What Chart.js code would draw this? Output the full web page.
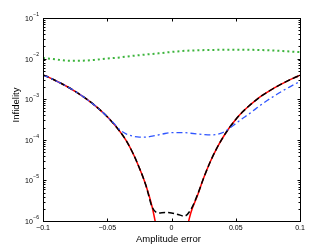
<!DOCTYPE html>
<html>
<head>
<meta charset="utf-8">
<script src="https://cdn.jsdelivr.net/npm/chart.js@4.4.1/dist/chart.umd.min.js"></script>
<style>
    html, body { margin: 0; padding: 0; background: #fff; }
    #wrap { width: 332px; height: 249px; position: relative; }
</style>
</head>
<body>
<div id="wrap"><canvas id="infidelityChart"></canvas></div>
<script>
// Amplitude error grid (fine) used by the solid, dashed and dash-dot curves
const ampError = [-0.1, -0.095, -0.09, -0.085, -0.08, -0.075, -0.07, -0.065, -0.06, -0.055,
    -0.05, -0.045, -0.04, -0.035, -0.03, -0.025, -0.02, -0.015, -0.01, -0.005,
    0, 0.005, 0.01, 0.015, 0.02, 0.025, 0.03, 0.035, 0.04, 0.045,
    0.05, 0.055, 0.06, 0.065, 0.07, 0.075, 0.08, 0.085, 0.09, 0.095, 0.1];

// Coarser grid for the dotted curve
const ampErrorCoarse = [-0.1, -0.09, -0.08, -0.07, -0.06, -0.05, -0.04, -0.03, -0.02, -0.01,
    0, 0.01, 0.02, 0.03, 0.04, 0.05, 0.06, 0.07, 0.08, 0.09, 0.1];

// Series values
const redSolid = [3.98e-3, 3.39e-3, 2.85e-3, 2.37e-3, 1.94e-3, 1.56e-3, 1.23e-3, 9.5e-4, 7.16e-4, 5.24e-4,
    3.69e-4, 2.48e-4, 1.58e-4, 9.3e-5, 4.66e-5, 2.03e-5, 7.7e-6, 2.18e-6, 3.45e-7, 4e-8,
    1e-8, 4e-8, 3.16e-7, 1.58e-6, 4.05e-6, 1.14e-5, 2.8e-5, 5.98e-5, 1.14e-4, 1.98e-4,
    3.18e-4, 4.75e-4, 6.71e-4, 9.12e-4, 1.2e-3, 1.52e-3, 1.9e-3, 2.32e-3, 2.79e-3, 3.31e-3, 3.89e-3];

const blackDashed = [3.98e-3, 3.39e-3, 2.85e-3, 2.37e-3, 1.94e-3, 1.56e-3, 1.23e-3, 9.5e-4, 7.16e-4, 5.24e-4,
    3.69e-4, 2.48e-4, 1.58e-4, 9.3e-5, 4.66e-5, 2.03e-5, 7.7e-6, 2.18e-6, 1.58e-6, 1.62e-6,
    1.58e-6, 1.45e-6, 1.32e-6, 1.9e-6, 4.27e-6, 1.14e-5, 2.8e-5, 5.98e-5, 1.14e-4, 1.98e-4,
    3.18e-4, 4.75e-4, 6.71e-4, 9.12e-4, 1.2e-3, 1.52e-3, 1.9e-3, 2.32e-3, 2.79e-3, 3.31e-3, 3.89e-3];

const blueDashDot = [3.98e-3, 3.39e-3, 2.85e-3, 2.37e-3, 1.94e-3, 1.56e-3, 1.23e-3, 9.5e-4, 7.16e-4, 5.24e-4,
    3.69e-4, 2.57e-4, 1.74e-4, 1.38e-4, 1.23e-4, 1.17e-4, 1.17e-4, 1.23e-4, 1.32e-4, 1.43e-4,
    1.5e-4, 1.51e-4, 1.5e-4, 1.45e-4, 1.4e-4, 1.35e-4, 1.32e-4, 1.35e-4, 1.51e-4, 1.91e-4,
    2.51e-4, 3.31e-4, 4.27e-4, 5.62e-4, 7.41e-4, 9.55e-4, 1.2e-3, 1.51e-3, 1.86e-3, 2.26e-3, 2.75e-3];

const greenDotted = [0.01035, 0.00955, 0.0089, 0.0089, 0.0093, 0.0100, 0.0107, 0.0117, 0.0126, 0.0135,
    0.0146, 0.0155, 0.0160, 0.0163, 0.0165, 0.0166, 0.0165, 0.0162, 0.0158, 0.0151, 0.0145];

// Tick values and labels
const xTicks = [-0.1, -0.05, 0, 0.05, 0.1];
const xTickLabels = ['\u22120.1', '\u22120.05', '0', '0.05', '0.1'];
const yTicks = [1e-1, 1e-2, 1e-3, 1e-4, 1e-5, 1e-6];
const yTickExponents = ['\u22121', '\u22122', '\u22123', '\u22124', '\u22125', '\u22126'];

const FONT = '"Liberation Sans", Arial, Helvetica, sans-serif';

function toPoints(xs, ys) {
    return xs.map((x, i) => ({ x: x, y: ys[i] }));
}

// MATLAB-like axes: box, inside ticks, tick labels with superscripts, axis titles
const matlabAxes = {
    id: 'matlabAxes',
    afterDraw(chart) {
        const ctx = chart.ctx;
        const area = chart.chartArea;
        const xScale = chart.scales.x;
        const yScale = chart.scales.y;
        const left = Math.round(area.left) + 0.5;
        const right = Math.round(area.right) + 0.5;
        const top = Math.round(area.top) + 0.5;
        const bottom = Math.round(area.bottom) + 0.5;

        ctx.save();
        ctx.strokeStyle = '#000';
        ctx.lineWidth = 1;
        ctx.strokeRect(left, top, right - left, bottom - top);

        // x ticks
        ctx.beginPath();
        xTicks.forEach(v => {
            const px = Math.round(xScale.getPixelForValue(v)) + 0.5;
            ctx.moveTo(px, bottom); ctx.lineTo(px, bottom - 3);
            ctx.moveTo(px, top); ctx.lineTo(px, top + 3);
        });
        // y major and minor ticks
        yTicks.forEach(v => {
            const py = Math.round(yScale.getPixelForValue(v)) + 0.5;
            ctx.moveTo(left, py); ctx.lineTo(left + 3, py);
            ctx.moveTo(right, py); ctx.lineTo(right - 3, py);
            if (v < 1e-1) {
                for (let m = 2; m <= 9; m++) {
                    const pm = Math.round(yScale.getPixelForValue(v * m)) + 0.5;
                    ctx.moveTo(left, pm); ctx.lineTo(left + 2, pm);
                    ctx.moveTo(right, pm); ctx.lineTo(right - 2, pm);
                }
            }
        });
        ctx.stroke();

        ctx.fillStyle = '#000';
        // x tick labels
        ctx.font = '7px ' + FONT;
        ctx.textAlign = 'center';
        ctx.textBaseline = 'middle';
        xTicks.forEach((v, i) => {
            ctx.fillText(xTickLabels[i], xScale.getPixelForValue(v), bottom + 7);
        });

        // y tick labels: 10 with superscript exponent
        yTicks.forEach((v, i) => {
            const py = yScale.getPixelForValue(v);
            ctx.textAlign = 'right';
            ctx.font = '5px ' + FONT;
            ctx.fillText(yTickExponents[i], area.left - 4, py - 3.5);
            const supW = ctx.measureText(yTickExponents[i]).width;
            ctx.font = '7px ' + FONT;
            ctx.fillText('10', area.left - 4 - supW - 0.5, py + 1);
        });

        // axis titles
        ctx.font = '9.5px ' + FONT;
        ctx.textAlign = 'center';
        ctx.fillText('Amplitude error', (area.left + area.right) / 2 - 3, bottom + 18);
        ctx.translate(16, 105);
        ctx.rotate(-Math.PI / 2);
        ctx.fillText('Infidelity', 0, 0);
        ctx.restore();
    }
};

const ctx = document.getElementById('infidelityChart').getContext('2d');
const infidelityChart = new Chart(ctx, {
    type: 'line',
    data: {
        datasets: [
            {
                label: 'Dotted',
                data: toPoints(ampErrorCoarse, greenDotted),
                borderColor: '#3cb43c',
                borderWidth: 2,
                borderDash: [2, 3],
                order: 1
            },
            {
                label: 'Dash-dot',
                data: toPoints(ampError, blueDashDot),
                borderColor: '#2f55ff',
                borderWidth: 1.3,
                borderDash: [6, 3, 2, 3],
                order: 2
            },
            {
                label: 'Dashed',
                data: toPoints(ampError, blackDashed),
                borderColor: '#000000',
                borderWidth: 1.5,
                borderDash: [6, 3],
                order: 3
            },
            {
                label: 'Solid',
                data: toPoints(ampError, redSolid),
                borderColor: '#ff0000',
                borderWidth: 1.5,
                order: 4
            }
        ]
    },
    options: {
        responsive: true,
        maintainAspectRatio: false,
        animation: false,
        devicePixelRatio: 1,
        layout: {
            padding: { left: 43, right: 32, top: 18, bottom: 28 }
        },
        elements: {
            point: { radius: 0 },
            line: { cubicInterpolationMode: 'monotone', fill: false, borderCapStyle: 'butt' }
        },
        plugins: {
            legend: { display: false },
            tooltip: { enabled: false }
        },
        scales: {
            x: {
                type: 'linear',
                min: -0.1,
                max: 0.1,
                display: false
            },
            y: {
                type: 'logarithmic',
                min: 1e-6,
                max: 1e-1,
                display: false
            }
        }
    },
    plugins: [matlabAxes]
});
</script>
</body>
</html>
